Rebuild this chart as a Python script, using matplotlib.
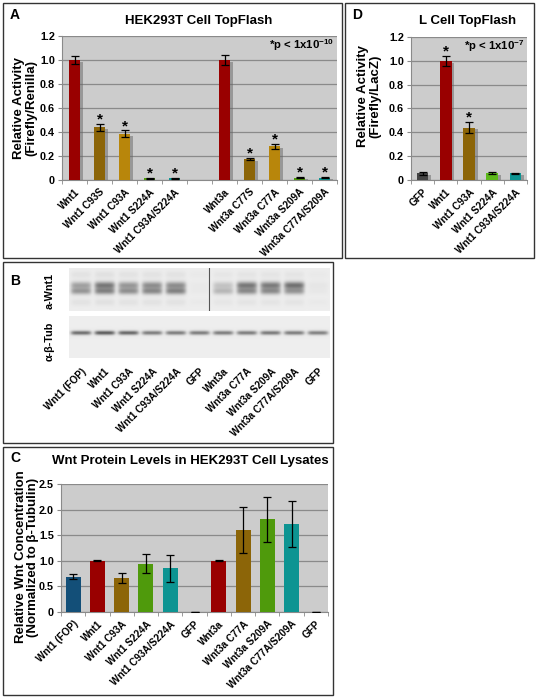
import numpy as np
import matplotlib
matplotlib.use('Agg')
import matplotlib.pyplot as plt
from matplotlib.patches import Rectangle
import matplotlib.patheffects as pe
from matplotlib.ticker import FuncFormatter

plt.rcParams['font.family'] = ['Liberation Sans', 'DejaVu Sans']
plt.rcParams['font.weight'] = 'bold'
plt.rcParams['mathtext.fontset'] = 'custom'
plt.rcParams['mathtext.rm'] = 'Liberation Sans'
plt.rcParams['mathtext.bf'] = 'Liberation Sans:bold'

# ---------------- data ----------------
a_labels = ['Wnt1', 'Wnt1 C93S', 'Wnt1 C93A', 'Wnt1 S224A', 'Wnt1 C93A/S224A', '',
            'Wnt3a', 'Wnt3a C77S', 'Wnt3a C77A', 'Wnt3a S209A', 'Wnt3a C77A/S209A']
a_values = [1.0, 0.44, 0.385, 0.015, 0.015, np.nan, 1.0, 0.175, 0.28, 0.02, 0.02]
a_errors = [0.03, 0.03, 0.03, 0.004, 0.004, np.nan, 0.045, 0.012, 0.022, 0.004, 0.004]
a_signif = [False, True, True, True, True, False, False, True, True, True, True]

d_labels = ['GFP', 'Wnt1', 'Wnt1 C93A', 'Wnt1 S224A', 'Wnt1 C93A/S224A']
d_values = [0.055, 1.0, 0.44, 0.058, 0.055]
d_errors = [0.012, 0.04, 0.045, 0.005, 0.006]
d_signif = [False, True, True, False, False]

b_lanes = ['Wnt1 (FOP)', 'Wnt1', 'Wnt1 C93A', 'Wnt1 S224A', 'Wnt1 C93A/S224A', 'GFP',
           'Wnt3a', 'Wnt3a C77A', 'Wnt3a S209A', 'Wnt3a C77A/S209A', 'GFP']
b_wnt_upper = [0.40, 0.62, 0.45, 0.50, 0.50, 0.02, 0.22, 0.62, 0.60, 0.66, 0.04]
b_wnt_lower = [0.45, 0.55, 0.48, 0.52, 0.55, 0.02, 0.28, 0.50, 0.50, 0.45, 0.03]
b_wnt_faint = [0.06, 0.07, 0.06, 0.06, 0.06, 0.02, 0.04, 0.05, 0.05, 0.05, 0.02]
b_tub = [0.70, 0.80, 0.74, 0.62, 0.62, 0.62, 0.62, 0.62, 0.64, 0.62, 0.60]

c_labels = b_lanes
c_values = [0.69, 1.0, 0.67, 0.94, 0.85, 0.0, 1.0, 1.61, 1.81, 1.71, 0.0]
c_errors = [0.05, 0.01, 0.095, 0.185, 0.26, 0.005, 0.01, 0.45, 0.44, 0.45, 0.005]

# ---------------- styles ----------------
RED = '#990000'
BROWN = '#8c6508'
GOLD = '#b8860b'
GREEN = '#4f9a0c'
LGREEN = '#5cb81a'
TEAL = '#0d9492'
BLUE = '#134f78'
DGRAY = '#444444'
a_colors = [RED, BROWN, GOLD, GREEN, TEAL, 'none', RED, BROWN, GOLD, GREEN, TEAL]
d_colors = [DGRAY, RED, BROWN, LGREEN, TEAL]
c_colors = [BLUE, RED, BROWN, GREEN, TEAL, DGRAY, RED, BROWN, GREEN, TEAL, DGRAY]

W, H = 537, 698
fig = plt.figure(figsize=(W / 100, H / 100), dpi=100)


def box(x0, y0, x1, y1):
    return [x0 / W, 1 - y1 / H, (x1 - x0) / W, (y1 - y0) / H]


def ftext(x, y, s, **kw):
    return fig.text(x / W, 1 - y / H, s, **kw)


def frame(x0, y0, x1, y1):
    fig.patches.append(Rectangle((x0 / W, 1 - y1 / H), (x1 - x0) / W, (y1 - y0) / H,
                                 transform=fig.transFigure, fill=False,
                                 edgecolor='#333333', lw=1.0))


yfmt = FuncFormatter(lambda v, p: '0' if abs(v) < 1e-9 else f'{v:.1f}')


def style_axes(ax, labels, ymax, ystep, lsize=7.2):
    n = len(labels)
    ax.set_facecolor('#cccccc')
    ax.set_xlim(-0.5, n - 0.5)
    ax.set_ylim(0, ymax)
    ax.set_yticks(np.arange(0, ymax + 1e-9, ystep))
    ax.yaxis.set_major_formatter(yfmt)
    ax.yaxis.grid(True, color='#8a8a8a', lw=0.9)
    ax.set_axisbelow(True)
    for s in ['top', 'right']:
        ax.spines[s].set_visible(False)
    for s in ['left', 'bottom']:
        ax.spines[s].set_color('#8a8a8a')
    ax.set_xticks(range(n))
    ax.set_xticklabels(labels, rotation=45, ha='right', va='top',
                       rotation_mode='anchor', fontsize=lsize)
    ax.tick_params(axis='x', which='major', length=0, pad=5)
    ax.set_xticks(np.arange(-0.5, n, 1), minor=True)
    ax.tick_params(axis='x', which='minor', length=3, color='#8a8a8a')
    ax.tick_params(axis='y', length=3, color='#8a8a8a', labelsize=7.8, pad=2)


def draw_bars(ax, values, errors, colors, width, shadow=True, star_off=0.055, signif=None):
    for i, (v, e, c) in enumerate(zip(values, errors, colors)):
        if np.isnan(v):
            continue
        peff = [pe.SimplePatchShadow(offset=(2.0, -1.3), shadow_rgbFace='#666666', alpha=0.5),
                pe.Normal()] if shadow else None
        ax.bar(i, v, width=width, color=c, path_effects=peff, zorder=3)
        ax.errorbar(i, v, yerr=e, fmt='none', ecolor='black', elinewidth=0.9,
                    capsize=3, capthick=0.9, zorder=4)
        if signif is not None and signif[i]:
            ax.text(i, v + e + star_off, '*', ha='center', va='center',
                    fontsize=11, zorder=5)


# ---------------- frames ----------------
frame(3, 3, 342, 258)
frame(345, 3, 534, 258)
frame(3, 262, 333, 443)
frame(3, 447, 333, 695)

# ---------------- panel A ----------------
axA = fig.add_axes(box(62, 36, 337, 180))
style_axes(axA, a_labels, 1.2, 0.2)
draw_bars(axA, a_values, a_errors, a_colors, 0.42, shadow=True, star_off=0.035, signif=a_signif)
axA.text(0.99, 0.935, r'*p < 1x10$^{\mathbf{-10}}$', transform=axA.transAxes,
         ha='right', va='center', fontsize=8.2)
ftext(15, 15, 'A', fontsize=10, ha='center', va='center')
ftext(199, 21, 'HEK293T Cell TopFlash', fontsize=9.5, ha='center', va='center')
ftext(25, 108, 'Relative Activity\n(Firefly/Renilla)', fontsize=9.5, rotation=90,
      ha='center', va='center', multialignment='center', linespacing=1.0)

# ---------------- panel D ----------------
axD = fig.add_axes(box(411, 37, 527, 180))
style_axes(axD, d_labels, 1.2, 0.2)
draw_bars(axD, d_values, d_errors, d_colors, 0.5, shadow=True, star_off=0.04, signif=d_signif)
axD.text(0.98, 0.935, r'*p < 1x10$^{\mathbf{-7}}$', transform=axD.transAxes,
         ha='right', va='center', fontsize=8.2)
ftext(357, 15, 'D', fontsize=10, ha='center', va='center')
ftext(468, 21, 'L Cell TopFlash', fontsize=9.5, ha='center', va='center')
ftext(369, 96, 'Relative Activity\n(Firefly/LacZ)', fontsize=9.5, rotation=90,
      ha='center', va='center', multialignment='center', linespacing=1.0)

# ---------------- panel B (blot) ----------------
n_l = len(b_lanes)


def blot_image(bands, ny, nx):
    ys = np.linspace(0, 1, ny)[:, None]
    xs = np.linspace(-0.5, n_l - 0.5, nx)[None, :]
    dark = np.zeros((ny, nx))
    for yc, sig, ints in bands:
        for i, it in enumerate(ints):
            prof_x = np.exp(-((xs - i) / 0.43) ** 6)
            prof_y = np.exp(-0.5 * ((ys - yc) / sig) ** 2)
            dark += it * prof_x * prof_y
    img = 0.93 - 0.72 * dark
    return np.clip(img, 0, 1)


axB1 = fig.add_axes(box(69, 268, 330, 311))
img1 = blot_image([(0.15, 0.06, b_wnt_faint),
                   (0.40, 0.06, b_wnt_upper),
                   (0.54, 0.055, b_wnt_lower),
                   (0.80, 0.06, b_wnt_faint)], 86, 522)
axB1.imshow(img1, cmap='gray', vmin=0, vmax=1, aspect='auto',
            extent=(-0.5, n_l - 0.5, 1, 0), interpolation='bilinear')
axB1.axvline(5.42, color='#555555', lw=0.8)
axB1.set_xlim(-0.5, n_l - 0.5)
axB1.set_ylim(1, 0)
axB1.axis('off')

axB2 = fig.add_axes(box(69, 316, 330, 358))
img2 = blot_image([(0.40, 0.035, b_tub)], 84, 522)
axB2.imshow(img2, cmap='gray', vmin=0, vmax=1, aspect='auto',
            extent=(-0.5, n_l - 0.5, 1, 0), interpolation='bilinear')
axB2.set_xlim(-0.5, n_l - 0.5)
axB2.set_ylim(1, 0)
for s in axB2.spines.values():
    s.set_visible(False)
axB2.set_yticks([])
axB2.set_xticks(range(n_l))
axB2.set_xticklabels(b_lanes, rotation=45, ha='right', va='top',
                     rotation_mode='anchor', fontsize=7.2)
axB2.tick_params(axis='x', length=0, pad=6)

ftext(15, 281, 'B', fontsize=10, ha='center', va='center')
ftext(50, 291, 'a-Wnt1', fontsize=7.8, rotation=90, ha='center', va='center')
ftext(50, 341, 'α-β-Tub', fontsize=7.8, rotation=90, ha='center', va='center')

# ---------------- panel C ----------------
axC = fig.add_axes(box(61, 484, 328, 612))
style_axes(axC, c_labels, 2.5, 0.5)
draw_bars(axC, c_values, c_errors, c_colors, 0.62, shadow=False)
ftext(15, 458, 'C', fontsize=10, ha='center', va='center')
ftext(190, 461, 'Wnt Protein Levels in HEK293T Cell Lysates', fontsize=9.5,
      ha='center', va='center')
ftext(27, 557, 'Relative Wnt Concentration\n(Normalized to β-Tubulin)', fontsize=9.5,
      rotation=90, ha='center', va='center', multialignment='center', linespacing=1.0)

fig.savefig('out.png', dpi=100)
